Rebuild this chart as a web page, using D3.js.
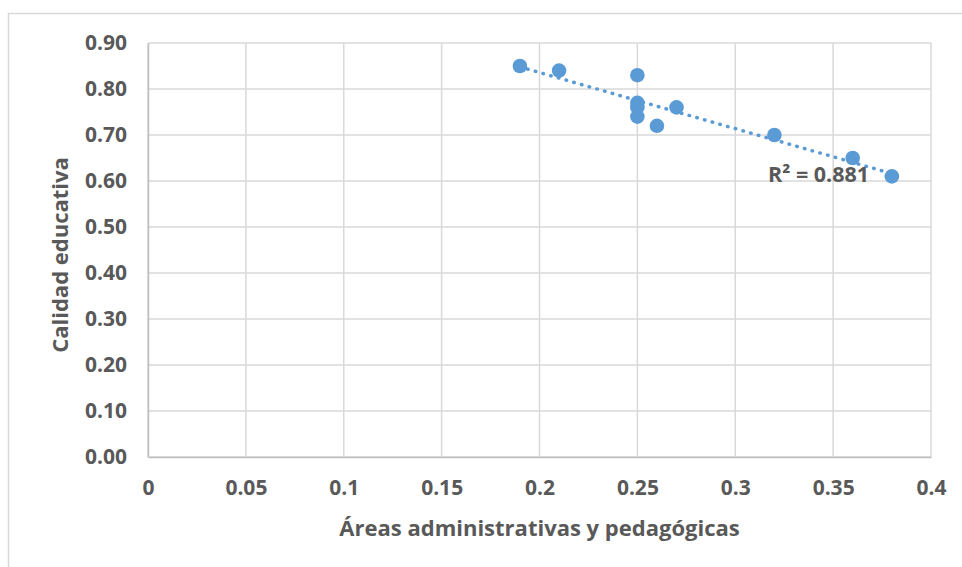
<!DOCTYPE html>
<html><head><meta charset="utf-8">
<script src="https://cdn.jsdelivr.net/npm/d3@7"></script>
<style>
html,body{margin:0;padding:0;background:#fff;}
text{font-family:"Open Sans",sans-serif;font-weight:700;fill:#595959;}
</style></head>
<body>
<script>
const xValues = [0.19, 0.21, 0.25, 0.25, 0.25, 0.25, 0.26, 0.27, 0.32, 0.36, 0.38];
const yValues = [0.85, 0.84, 0.83, 0.77, 0.76, 0.74, 0.72, 0.76, 0.70, 0.65, 0.61];
const xTicks = [0, 0.05, 0.1, 0.15, 0.2, 0.25, 0.3, 0.35, 0.4];
const xTickLabels = ["0", "0.05", "0.1", "0.15", "0.2", "0.25", "0.3", "0.35", "0.4"];
const yTicks = [0, 0.1, 0.2, 0.3, 0.4, 0.5, 0.6, 0.7, 0.8, 0.9];
const yTickLabels = ["0.00","0.10","0.20","0.30","0.40","0.50","0.60","0.70","0.80","0.90"];
const xTitle = "Áreas administrativas y pedagógicas";
const yTitle = "Calidad educativa";
const r2Label = "R² = 0.881";

const W = 962, H = 567;
const svg = d3.select("body").append("svg").attr("width", W).attr("height", H);

// outer chart border
svg.append("rect").attr("x", 8.5).attr("y", 13.5).attr("width", 1000).attr("height", 1000)
  .attr("fill", "#fff").attr("stroke", "#d9d9d9").attr("stroke-width", 1.5);

const x = d3.scaleLinear().domain([0, 0.4]).range([148, 931]);
const y = d3.scaleLinear().domain([0, 0.9]).range([457, 43]);

// grid
svg.append("g").selectAll("line").data(yTicks).join("line")
  .attr("x1", x(0)).attr("x2", x(0.4)).attr("y1", d => y(d)).attr("y2", d => y(d))
  .attr("stroke", "#d9d9d9").attr("stroke-width", 1.5);
svg.append("g").selectAll("line").data(xTicks).join("line")
  .attr("x1", d => x(d)).attr("x2", d => x(d)).attr("y1", y(0)).attr("y2", y(0.9))
  .attr("stroke", "#d9d9d9").attr("stroke-width", 1.5);

// axes
const xAxis = d3.axisBottom(x).tickValues(xTicks).tickFormat((d, i) => xTickLabels[i]).tickSize(0).tickPadding(23);
const gx = svg.append("g").attr("transform", `translate(0,${y(0)})`).call(xAxis);
gx.select(".domain").attr("stroke", "#bfbfbf").attr("stroke-width", 1.5);
gx.selectAll("text").style("font-size", "21px").style("font-family", "Open Sans").style("font-weight", 700).attr("fill", "#595959");

const yAxis = d3.axisLeft(y).tickValues(yTicks).tickFormat((d, i) => yTickLabels[i]).tickSize(0).tickPadding(21);
const gy = svg.append("g").attr("transform", `translate(${x(0)},0)`).call(yAxis);
gy.select(".domain").attr("stroke", "#bfbfbf").attr("stroke-width", 1.5);
gy.selectAll("text").style("font-size", "21px").style("font-family", "Open Sans").style("font-weight", 700).attr("fill", "#595959");

// titles
svg.append("text").attr("x", (x(0) + x(0.4)) / 2).attr("y", 536).attr("text-anchor", "middle")
  .style("font-size", "22px").text(xTitle);
svg.append("text").attr("transform", `translate(68,${(y(0) + y(0.9)) / 2 + 5}) rotate(-90)`).attr("text-anchor", "middle")
  .style("font-size", "22px").text(yTitle);

// linear regression trendline
const n = xValues.length;
const mx = d3.mean(xValues), my = d3.mean(yValues);
let sxy = 0, sxx = 0;
for (let i = 0; i < n; i++) { sxy += (xValues[i] - mx) * (yValues[i] - my); sxx += (xValues[i] - mx) ** 2; }
const slope = sxy / sxx, intercept = my - slope * mx;
const x0 = d3.min(xValues), x1 = d3.max(xValues);

// points
const pts = xValues.map((v, i) => [v, yValues[i]]);
svg.append("g").selectAll("circle").data(pts).join("circle")
  .attr("cx", d => x(d[0])).attr("cy", d => y(d[1])).attr("r", 7.3).attr("fill", "#5b9bd5");

svg.append("line")
  .attr("x1", x(x0)).attr("y1", y(intercept + slope * x0))
  .attr("x2", x(x1)).attr("y2", y(intercept + slope * x1))
  .attr("stroke", "#5b9bd5").attr("stroke-width", 3.5).attr("stroke-linecap", "round")
  .attr("stroke-dasharray", "0.5 7.5");

svg.append("text").attr("x", 768).attr("y", 182).style("font-size", "21.5px").text(r2Label);
</script>
</body></html>
